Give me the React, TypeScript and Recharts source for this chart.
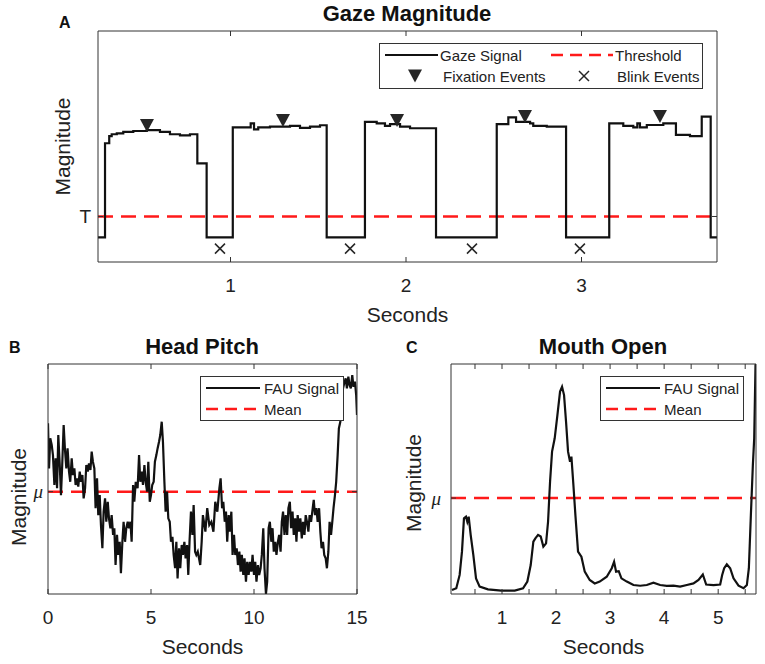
import React from 'react';
import { ComposedChart, LineChart, Line, Scatter, XAxis, YAxis, ReferenceLine, Legend, Label } from 'recharts';

// --- panel A: gaze magnitude, step signal [seconds, magnitude %] ---
const gazeSignal: [number, number][] = [
  [0.245, 10.7], [0.285, 51.4], [0.309, 54.5], [0.323, 55.3], [0.352, 55.7], [0.389, 56.3],
  [0.446, 56.7], [0.523, 57.1], [0.598, 56.3], [0.655, 55.3], [0.712, 54.8], [0.769, 55.3],
  [0.811, 42.7], [0.864, 10.7], [1.013, 58.3], [1.115, 60], [1.134, 57.4], [1.158, 58.3],
  [1.225, 58.6], [1.339, 58.9], [1.396, 58.1], [1.453, 58.6], [1.51, 59.2], [1.548, 10.7],
  [1.766, 60.7], [1.833, 60], [1.88, 58.9], [1.909, 59.7], [1.966, 58.6], [2.023, 57.9],
  [2.171, 10.7], [2.517, 59.7], [2.583, 62.6], [2.627, 60.7], [2.707, 60], [2.725, 58.9],
  [2.802, 58.6], [2.912, 10.7], [3.158, 60], [3.238, 58.9], [3.295, 58.3], [3.318, 60],
  [3.333, 58.3], [3.372, 59.3], [3.466, 60], [3.538, 55], [3.618, 54.5], [3.685, 62.9],
  [3.736, 10.7], [3.772, 10.7],
];
const fixationEvents: [number, number][] = [[0.524, 59.1], [1.299, 61.3], [1.949, 61.3], [2.678, 63], [3.447, 63]];
const blinkEvents: [number, number][] = [[0.94, 5.8], [1.681, 5.8], [2.376, 5.8], [2.991, 5.8]];
const gazeThreshold = 19.7;
const gazeTicks = [1, 2, 3];
const gazeDomain = [0.245, 3.772];

// --- panel B: head pitch ---
const headPitch: [number, number][] = [
  [0, 74.2], [0.05, 54.6], [0.11, 67.7], [0.18, 64.8], [0.24, 60.4], [0.31, 47.4], [0.37, 59], [0.44, 46],
  [0.5, 69.1], [0.57, 56.1], [0.63, 43], [0.69, 56.1], [0.76, 73.5], [0.82, 63.3], [0.89, 54.6], [0.95, 63.3],
  [1.02, 53.2], [1.08, 48.8], [1.15, 59], [1.21, 51.7], [1.28, 54.6], [1.34, 47.4], [1.41, 50.3], [1.47, 46.7],
  [1.54, 53.2], [1.6, 48.8], [1.67, 51.7], [1.73, 41.6], [1.8, 46], [1.86, 56.1], [1.93, 53.2], [1.99, 56.8],
  [2.06, 53.9], [2.12, 61.9], [2.18, 57.5], [2.25, 54.6], [2.31, 37.3], [2.38, 50.3], [2.44, 34.3], [2.51, 43],
  [2.57, 30], [2.64, 19.9], [2.7, 35.8], [2.77, 41.6], [2.83, 31.4], [2.9, 40.1], [2.96, 32.9], [3.03, 28.6],
  [3.09, 34.3], [3.16, 25.7], [3.22, 28.6], [3.28, 12.6], [3.35, 25.7], [3.41, 17], [3.48, 22.7], [3.54, 9],
  [3.61, 22.7], [3.67, 31.4], [3.74, 22.7], [3.8, 28.6], [3.87, 31.4], [3.93, 28.6], [4, 31.4], [4.06, 22.7],
  [4.13, 47.4], [4.19, 40.1], [4.26, 48.8], [4.35, 46], [4.42, 60.4], [4.48, 48.8], [4.55, 53.2], [4.61, 47.4],
  [4.68, 56.1], [4.74, 48.8], [4.81, 44.5], [4.87, 57.5], [4.94, 40.1], [5, 43], [5.06, 47.4], [5.13, 48.8],
  [5.19, 57.5], [5.26, 60.4], [5.32, 63.3], [5.39, 66.2], [5.45, 69.1], [5.52, 74.9], [5.58, 66.2], [5.65, 48.8],
  [5.71, 35.8], [5.78, 44.5], [5.84, 32.9], [5.91, 31.4], [5.97, 22.7], [6.04, 24.9], [6.1, 17], [6.17, 11.2],
  [6.23, 22.7], [6.29, 6.8], [6.36, 19.9], [6.42, 11.2], [6.49, 21.3], [6.55, 17], [6.62, 22.7], [6.68, 15.5],
  [6.75, 21.3], [6.81, 8.3], [6.87, 22.7], [6.94, 35.8], [7.01, 25.7], [7.07, 38.7], [7.14, 18.4], [7.2, 17],
  [7.27, 18.4], [7.33, 15.5], [7.39, 12.6], [7.46, 22.7], [7.52, 34.3], [7.64, 27.1], [7.73, 37.3], [7.83, 30],
  [7.93, 31.4], [8.03, 27.1], [8.12, 40.1], [8.22, 35.8], [8.32, 46], [8.38, 50.3], [8.45, 37.3], [8.51, 40.1],
  [8.58, 31.4], [8.64, 35.8], [8.7, 22.7], [8.77, 34.3], [8.83, 27.1], [8.9, 35.8], [8.96, 17], [9.03, 25.7],
  [9.09, 17], [9.16, 19.9], [9.22, 12.6], [9.29, 18.4], [9.35, 9.7], [9.41, 17], [9.48, 8.3], [9.54, 15.5],
  [9.61, 5.4], [9.67, 14], [9.74, 8.3], [9.8, 14], [9.87, 9.7], [9.93, 17], [10, 8.3], [10.06, 14],
  [10.12, 5.4], [10.19, 12.6], [10.25, 8.3], [10.32, 11.2], [10.38, 17], [10.45, 28.6], [10.51, 11.2], [10.58, 0],
  [10.64, 5.4], [10.71, 28.6], [10.77, 31.4], [10.84, 22.7], [10.9, 28.6], [10.96, 18.4], [11.03, 22.7], [11.09, 17],
  [11.16, 22.7], [11.22, 25.7], [11.29, 18.4], [11.35, 31.4], [11.41, 35.8], [11.48, 25.7], [11.54, 34.3], [11.61, 25.7],
  [11.67, 37.3], [11.74, 40.1], [11.8, 28.6], [11.87, 35.8], [11.93, 25.7], [12, 32.9], [12.06, 22.7], [12.12, 34.3],
  [12.19, 27.1], [12.25, 32.9], [12.32, 24.2], [12.38, 31.4], [12.45, 25.7], [12.51, 34.3], [12.57, 31.4], [12.64, 27.1],
  [12.7, 34.3], [12.77, 31.4], [12.83, 35.8], [12.9, 40.9], [12.96, 34.3], [13.03, 37.3], [13.09, 31.4], [13.16, 37.3],
  [13.22, 27.1], [13.28, 19.9], [13.35, 22.7], [13.41, 17], [13.48, 15.5], [13.54, 11.2], [13.61, 18.4], [13.67, 31.4],
  [13.74, 25.7], [13.8, 31.4], [13.86, 37.3], [13.93, 43], [13.99, 48.8], [14.06, 60.4], [14.12, 72], [14.19, 74.9],
  [14.25, 80.7], [14.32, 89.4], [14.38, 91.6], [14.45, 93.8], [14.51, 89.4], [14.58, 94.5], [14.64, 90.9], [14.7, 89.4],
  [14.77, 95.2], [14.83, 90.1], [14.9, 92.3], [14.96, 86.5], [15, 77.8],
];
const headMean = 44.5;
const headTicks = [0, 5, 10, 15];

// --- panel C: mouth open ---
const mouthOpen: [number, number][] = [
  [0.074, 1.7], [0.154, 2.5], [0.216, 8.3], [0.259, 18.4], [0.296, 32.9], [0.333, 33.6], [0.358, 31.4],
  [0.383, 33.6], [0.42, 25.7], [0.469, 17], [0.519, 6.8], [0.586, 3.2], [0.74, 2], [0.988, 1.5], [1.235, 1.5],
  [1.389, 2.5], [1.469, 5.4], [1.531, 12.6], [1.58, 22.8], [1.617, 24.2], [1.667, 25.7], [1.716, 25], [1.765, 20.6],
  [1.815, 22], [1.852, 31.4], [1.889, 48.8], [1.926, 61.9], [1.975, 67.7], [2.025, 77.8], [2.074, 88], [2.111, 90.1],
  [2.148, 86.5], [2.185, 74.9], [2.222, 61.9], [2.259, 57.5], [2.284, 59.7], [2.321, 47.4], [2.358, 34.3], [2.407, 18.4],
  [2.469, 16.2], [2.531, 9.7], [2.623, 6.1], [2.716, 4.6], [2.809, 5.4], [2.938, 7.5], [3.031, 11.2], [3.074, 14],
  [3.111, 9.7], [3.16, 9.9], [3.21, 6.8], [3.309, 5.4], [3.432, 3.9], [3.556, 3.6], [3.679, 3.9], [3.802, 4.9],
  [3.926, 3.9], [4.049, 3.5], [4.173, 3.6], [4.296, 3.2], [4.42, 3.9], [4.543, 4.6], [4.636, 6.1], [4.716, 8.5],
  [4.778, 4.1], [4.914, 3.9], [5.037, 4.1], [5.074, 8.3], [5.111, 11.2], [5.16, 12.9], [5.222, 11.2], [5.284, 6.8],
  [5.377, 3.6], [5.469, 2.5], [5.531, 3.9], [5.568, 11.2], [5.605, 34.3], [5.642, 56.1], [5.667, 67.7], [5.691, 99.6],
  [5.7, 100],
];
const mouthMean = 41.7;
const mouthTicks = [0.5, 1, 1.5, 2, 2.5, 3, 3.5, 4, 4.5, 5, 5.5];
const mouthDomain = [0.056, 5.7];

const FONT = '"Liberation Sans", Arial, Helvetica, sans-serif';
const INK = '#111111';
const BOX = '#333333';
const RED = '#ff1a1a';
const TL = 5; // inward tick length
const LABEL_GAP = 23;

const toRows = (pairs: [number, number][]) => pairs.map(([t, v]) => ({ t, v }));

const bottomTick = (showLabel: (v: number) => boolean) => (props: any) => {
  const { x, y, payload } = props;
  const axisY = y - LABEL_GAP;
  return (
    <g>
      <line x1={x} x2={x} y1={axisY} y2={axisY - TL} stroke={BOX} strokeWidth={1} />
      {showLabel(payload.value) && (
        <text x={x} y={y} textAnchor="middle" dominantBaseline="central" fontFamily={FONT} fontSize={19} fill="#222">
          {payload.value}
        </text>
      )}
    </g>
  );
};

const topTick = (props: any) => (
  <line x1={props.x} x2={props.x} y1={props.y} y2={props.y + TL} stroke={BOX} strokeWidth={1} />
);

const leftTick = (text: string, gap: number, serif: boolean) => (props: any) => {
  const { x, y } = props;
  const axisX = x + gap;
  return (
    <g>
      <line x1={axisX} x2={axisX + TL} y1={y} y2={y} stroke={BOX} strokeWidth={1} />
      <text
        x={x}
        y={y}
        textAnchor="end"
        dominantBaseline="central"
        fontFamily={serif ? '"Liberation Serif", "DejaVu Serif", serif' : FONT}
        fontStyle={serif ? 'italic' : 'normal'}
        fontSize={19}
        fill="#222"
      >
        {text}
      </text>
    </g>
  );
};

const rightTick = (props: any) => (
  <line x1={props.x} x2={props.x - TL} y1={props.y} y2={props.y} stroke={BOX} strokeWidth={1} />
);

const xTitle = (props: any) => {
  const vb = props.viewBox;
  return (
    <text x={vb.x + vb.width / 2} y={vb.y + 52} textAnchor="middle" dominantBaseline="central" fontFamily={FONT} fontSize={21} fill="#222">
      Seconds
    </text>
  );
};

const yTitle = (dx: number, dy: number) => (props: any) => {
  const vb = props.viewBox;
  const cx = vb.x + dx;
  const cy = vb.y + vb.height / 2 + dy;
  return (
    <text x={cx} y={cy} transform={`rotate(-90 ${cx} ${cy})`} textAnchor="middle" dominantBaseline="central" fontFamily={FONT} fontSize={21} fill="#222">
      Magnitude
    </text>
  );
};

const Triangle = (props: any) => {
  const { cx, cy } = props;
  return <path d={`M${cx - 7},${cy - 6.5} L${cx + 7},${cy - 6.5} L${cx},${cy + 6.5} Z`} fill="#262626" />;
};

const Cross = (props: any) => {
  const { cx, cy } = props;
  const s = 5;
  return (
    <g stroke="#262626" strokeWidth={1.5}>
      <line x1={cx - s} y1={cy - s} x2={cx + s} y2={cy + s} />
      <line x1={cx - s} y1={cy + s} x2={cx + s} y2={cy - s} />
    </g>
  );
};

const legendText = { fontFamily: FONT, fontSize: 15, fill: '#222', dominantBaseline: 'central' as const };

const GazeLegend = () => (
  <svg width={324} height={46} style={{ display: 'block' }}>
    <rect x={0.5} y={0.5} width={323} height={45} fill="#fff" stroke={BOX} />
    <line x1={6} x2={59} y1={12} y2={12} stroke={INK} strokeWidth={2} />
    <text x={61} y={12} {...legendText}>Gaze Signal</text>
    <line x1={172} x2={234} y1={12} y2={12} stroke={RED} strokeWidth={2.5} strokeDasharray="12 7" />
    <text x={236} y={12} {...legendText}>Threshold</text>
    <Triangle cx={36} cy={33} />
    <text x={64} y={33} {...legendText}>Fixation Events</text>
    <Cross cx={205} cy={33} />
    <text x={238} y={33} {...legendText}>Blink Events</text>
  </svg>
);

const FauLegend = () => (
  <svg width={144} height={45} style={{ display: 'block' }}>
    <rect x={0.5} y={0.5} width={143} height={44} fill="#fff" stroke={BOX} />
    <line x1={6} x2={60} y1={12} y2={12} stroke={INK} strokeWidth={2} />
    <text x={64} y={12} {...legendText}>FAU Signal</text>
    <line x1={6} x2={60} y1={33} y2={33} stroke={RED} strokeWidth={2.5} strokeDasharray="12 7" />
    <text x={64} y={33} {...legendText}>Mean</text>
  </svg>
);

const textBase: React.CSSProperties = { position: 'absolute', fontFamily: FONT, color: '#111', lineHeight: '20px', whiteSpace: 'nowrap' };

export default function App() {
  const gaze = toRows(gazeSignal);
  const fix = toRows(fixationEvents);
  const blink = toRows(blinkEvents);
  const head = toRows(headPitch);
  const mouth = toRows(mouthOpen);

  return (
    <div style={{ position: 'absolute', left: 0, top: 0, width: 765, height: 664, background: '#fff' }}>
      <div style={{ ...textBase, left: 59, top: 13, fontSize: 16, fontWeight: 'bold' }}>A</div>
      <div style={{ ...textBase, left: 207, width: 400, top: 4, textAlign: 'center', fontSize: 22, fontWeight: 'bold' }}>Gaze Magnitude</div>
      <div style={{ ...textBase, left: 9, top: 338, fontSize: 16, fontWeight: 'bold' }}>B</div>
      <div style={{ ...textBase, left: 2, width: 400, top: 337, textAlign: 'center', fontSize: 22, fontWeight: 'bold' }}>Head Pitch</div>
      <div style={{ ...textBase, left: 406, top: 338, fontSize: 16, fontWeight: 'bold' }}>C</div>
      <div style={{ ...textBase, left: 403, width: 400, top: 337, textAlign: 'center', fontSize: 22, fontWeight: 'bold' }}>Mouth Open</div>

      <div style={{ position: 'absolute', left: 0, top: 0 }}>
        <ComposedChart width={765} height={330} margin={{ top: 30, right: 47, bottom: 28, left: 58 }}>
          <XAxis dataKey="t" type="number" domain={gazeDomain} ticks={gazeTicks} allowDataOverflow interval={0}
            height={40} tickSize={0} tickMargin={LABEL_GAP} tickLine={false} axisLine={{ stroke: BOX }} tick={bottomTick(() => true)}>
            <Label content={xTitle} />
          </XAxis>
          <XAxis xAxisId="top" orientation="top" dataKey="t" type="number" domain={gazeDomain} ticks={gazeTicks} allowDataOverflow
            interval={0} height={1} tickSize={0} tickMargin={0} tickLine={false} axisLine={{ stroke: BOX }} tick={topTick} />
          <YAxis type="number" domain={[0, 100]} ticks={[gazeThreshold]} allowDataOverflow width={40} tickSize={0} tickMargin={7}
            tickLine={false} axisLine={{ stroke: BOX }} tick={leftTick('T', 7, false)}>
            <Label content={yTitle(4, 0)} />
          </YAxis>
          <YAxis yAxisId="r" orientation="right" type="number" domain={[0, 100]} ticks={[gazeThreshold]} allowDataOverflow width={1}
            tickSize={0} tickMargin={0} tickLine={false} axisLine={{ stroke: BOX }} tick={rightTick} />
          <ReferenceLine y={gazeThreshold} stroke={RED} strokeWidth={2.5} strokeDasharray="15 8" />
          <Line data={gaze} dataKey="v" type="stepAfter" stroke={INK} strokeWidth={2.2} dot={false} isAnimationActive={false} />
          <Scatter data={fix} dataKey="v" shape={Triangle} isAnimationActive={false} />
          <Scatter data={blink} dataKey="v" shape={Cross} isAnimationActive={false} />
          <Legend layout="vertical" align="center" verticalAlign="middle" content={GazeLegend}
            wrapperStyle={{ left: 379, top: 43, width: 324, height: 46 }} />
        </ComposedChart>
      </div>

      <div style={{ position: 'absolute', left: 0, top: 330 }}>
        <LineChart width={380} height={334} margin={{ top: 33, right: 22, bottom: 30, left: 8 }}>
          <XAxis dataKey="t" type="number" domain={[0, 15]} ticks={headTicks} allowDataOverflow interval={0}
            height={40} tickSize={0} tickMargin={LABEL_GAP} tickLine={false} axisLine={{ stroke: BOX }} tick={bottomTick(() => true)}>
            <Label content={xTitle} />
          </XAxis>
          <XAxis xAxisId="top" orientation="top" dataKey="t" type="number" domain={[0, 15]} ticks={headTicks} allowDataOverflow
            interval={0} height={1} tickSize={0} tickMargin={0} tickLine={false} axisLine={{ stroke: BOX }} tick={topTick} />
          <YAxis type="number" domain={[0, 100]} ticks={[headMean]} allowDataOverflow width={40} tickSize={0} tickMargin={5}
            tickLine={false} axisLine={{ stroke: BOX }} tick={leftTick('\u03bc', 5, true)}>
            <Label content={yTitle(10, 18)} />
          </YAxis>
          <YAxis yAxisId="r" orientation="right" type="number" domain={[0, 100]} ticks={[headMean]} allowDataOverflow width={1}
            tickSize={0} tickMargin={0} tickLine={false} axisLine={{ stroke: BOX }} tick={rightTick} />
          <ReferenceLine y={headMean} stroke={RED} strokeWidth={2.5} strokeDasharray="15 8" />
          <Line data={head} dataKey="v" type="linear" stroke={INK} strokeWidth={2.2} dot={false} isAnimationActive={false} />
          <Legend layout="vertical" align="center" verticalAlign="middle" content={FauLegend}
            wrapperStyle={{ left: 200, top: 46, width: 144, height: 45 }} />
        </LineChart>
      </div>

      <div style={{ position: 'absolute', left: 380, top: 330 }}>
        <LineChart width={385} height={334} margin={{ top: 33, right: 8, bottom: 30, left: 31 }}>
          <XAxis dataKey="t" type="number" domain={mouthDomain} ticks={mouthTicks} allowDataOverflow interval={0}
            height={40} tickSize={0} tickMargin={LABEL_GAP} tickLine={false} axisLine={{ stroke: BOX }}
            tick={bottomTick((v) => Number.isInteger(v))}>
            <Label content={xTitle} />
          </XAxis>
          <XAxis xAxisId="top" orientation="top" dataKey="t" type="number" domain={mouthDomain} ticks={mouthTicks} allowDataOverflow
            interval={0} height={1} tickSize={0} tickMargin={0} tickLine={false} axisLine={{ stroke: BOX }} tick={topTick} />
          <YAxis type="number" domain={[0, 100]} ticks={[mouthMean]} allowDataOverflow width={40} tickSize={0} tickMargin={10}
            tickLine={false} axisLine={{ stroke: BOX }} tick={leftTick('\u03bc', 10, true)}>
            <Label content={yTitle(2, 4)} />
          </YAxis>
          <YAxis yAxisId="r" orientation="right" type="number" domain={[0, 100]} ticks={[mouthMean]} allowDataOverflow width={1}
            tickSize={0} tickMargin={0} tickLine={false} axisLine={{ stroke: BOX }} tick={rightTick} />
          <ReferenceLine y={mouthMean} stroke={RED} strokeWidth={2.5} strokeDasharray="15 8" />
          <Line data={mouth} dataKey="v" type="linear" stroke={INK} strokeWidth={2.2} dot={false} isAnimationActive={false} />
          <Legend layout="vertical" align="center" verticalAlign="middle" content={FauLegend}
            wrapperStyle={{ left: 220, top: 46, width: 144, height: 45 }} />
        </LineChart>
      </div>
    </div>
  );
}
